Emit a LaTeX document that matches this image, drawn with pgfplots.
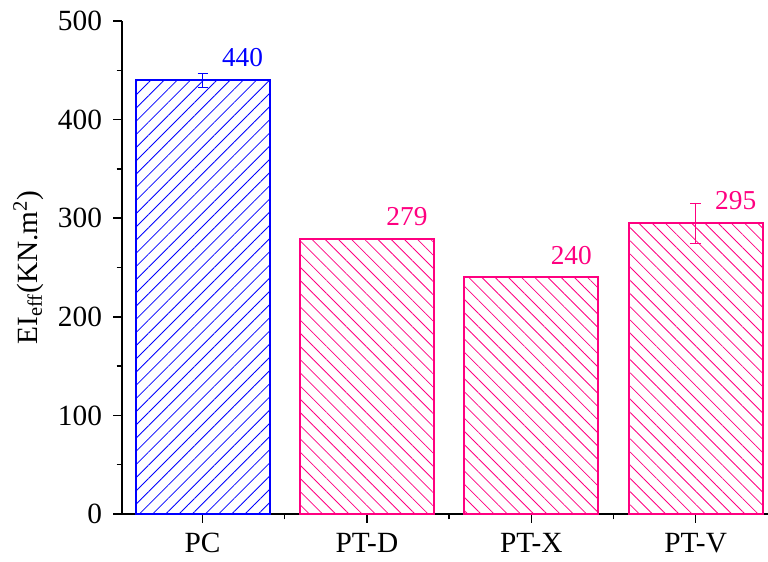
\documentclass[border=0pt]{standalone}
\usepackage{fontspec}
\setmainfont{Liberation Serif}
\usepackage{pgfplots}
\pgfplotsset{compat=1.18}
\usetikzlibrary{patterns.meta}
\definecolor{bblue}{RGB}{0,0,255}
\definecolor{ppink}{RGB}{255,0,128}
\begin{document}
\begin{tikzpicture}[x=1pt,y=1pt]
\useasboundingbox (0,0) rectangle (576,420.75);
\begin{axis}[
  at={(91.5pt,35.25pt)}, anchor=south west,
  scale only axis, width=484.5pt, height=369.75pt,
  xmin=-0.49, xmax=3.44, ymin=0, ymax=500,
  axis x line=bottom, axis y line=left,
  axis line style={-, line width=1.3pt},
  xtick={0,1,2,3}, xticklabels={PC,PT-D,PT-X,PT-V},
  minor xtick={-0.5,0.5,1.5,2.5},
  ytick={0,100,200,300,400,500},
  minor ytick={50,150,250,350,450},
  tick align=outside,
  major tick length=6.5pt, minor tick length=4pt,
  every tick/.style={black, line width=1.1pt},
  tick label style={font=\fontsize{22}{26}\selectfont},
  xticklabel style={yshift=-4.5pt},
  yticklabel style={xshift=-5pt},
  /pgf/number format/assume math mode=true,
  ylabel={EI\textsubscript{eff}(KN.m\textsuperscript{2})},
  ylabel style={font=\fontsize{22}{26}\selectfont, at={(axis description cs:-0.145,0.5)}, anchor=center, rotate=0},
  ybar, bar width=0.815, bar shift=0pt,
  nodes near coords,
  every node near coord/.append style={font=\fontsize{20.5}{24}\selectfont, anchor=base, xshift=30pt, yshift=10pt},
  clip=false,
]
\addplot[draw=bblue, line width=1.5pt, pattern={Lines[angle=45,distance=7pt,line width=0.6pt]}, pattern color=bblue,
  every node near coord/.append style={text=bblue},
  error bars/.cd, y dir=both, y explicit, error bar style={line width=0.6pt, bblue}, error mark options={rotate=90, mark size=3.75pt, line width=0.6pt, bblue}]
  coordinates {(0,440) +- (0,7)};
\addplot[draw=ppink, line width=1.5pt, pattern={Lines[angle=-45,distance=7pt,line width=0.6pt]}, pattern color=ppink,
  every node near coord/.append style={text=ppink},
  error bars/.cd, y dir=both, y explicit, error bar style={line width=0.6pt, ppink}, error mark options={rotate=90, mark size=4pt, line width=0.6pt, ppink}]
  coordinates {(1,279) +- (0,0) (2,240) +- (0,0) (3,295) +- (0,20.5)};
\end{axis}
\end{tikzpicture}
\end{document}
